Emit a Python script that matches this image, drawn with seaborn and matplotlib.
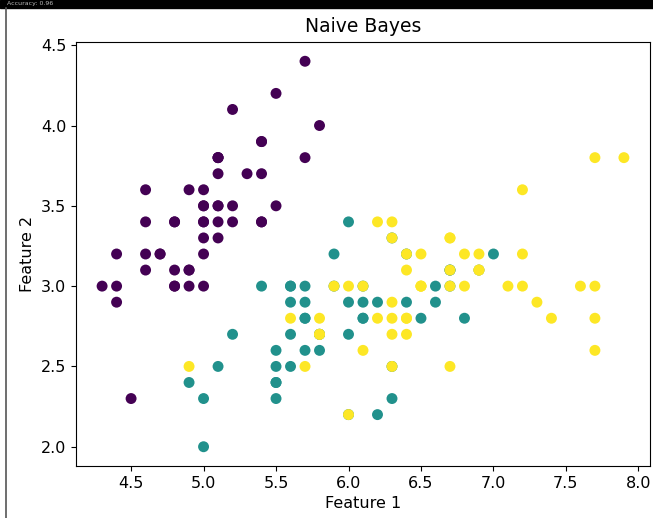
import numpy as np
import pandas as pd

import matplotlib
matplotlib.use("Agg")

import matplotlib.pyplot as plt
import seaborn as sns
from matplotlib.lines import Line2D
from matplotlib.patches import Rectangle


# ------------------------ DATA --------------------------
# iris sepal length / sepal width, class label (0, 1, 2)

feature_1 = [
    5.1, 4.9, 4.7, 4.6, 5.0, 5.4, 4.6, 5.0, 4.4, 4.9,
    5.4, 4.8, 4.8, 4.3, 5.8, 5.7, 5.4, 5.1, 5.7, 5.1,
    5.4, 5.1, 4.6, 5.1, 4.8, 5.0, 5.0, 5.2, 5.2, 4.7,
    4.8, 5.4, 5.2, 5.5, 4.9, 5.0, 5.5, 4.9, 4.4, 5.1,
    5.0, 4.5, 4.4, 5.0, 5.1, 4.8, 5.1, 4.6, 5.3, 5.0,
    7.0, 6.4, 6.9, 5.5, 6.5, 5.7, 6.3, 4.9, 6.6, 5.2,
    5.0, 5.9, 6.0, 6.1, 5.6, 6.7, 5.6, 5.8, 6.2, 5.6,
    5.9, 6.1, 6.3, 6.1, 6.4, 6.6, 6.8, 6.7, 6.0, 5.7,
    5.5, 5.5, 5.8, 6.0, 5.4, 6.0, 6.7, 6.3, 5.6, 5.5,
    5.5, 6.1, 5.8, 5.0, 5.6, 5.7, 5.7, 6.2, 5.1, 5.7,
    6.3, 5.8, 7.1, 6.3, 6.5, 7.6, 4.9, 7.3, 6.7, 7.2,
    6.5, 6.4, 6.8, 5.7, 5.8, 6.4, 6.5, 7.7, 7.7, 6.0,
    6.9, 5.6, 7.7, 6.3, 6.7, 7.2, 6.2, 6.1, 6.4, 7.2,
    7.4, 7.9, 6.4, 6.3, 6.1, 7.7, 6.3, 6.4, 6.0, 6.9,
    6.7, 6.9, 5.8, 6.8, 6.7, 6.7, 6.3, 6.5, 6.2, 5.9,
]

feature_2 = [
    3.5, 3.0, 3.2, 3.1, 3.6, 3.9, 3.4, 3.4, 2.9, 3.1,
    3.7, 3.4, 3.0, 3.0, 4.0, 4.4, 3.9, 3.5, 3.8, 3.8,
    3.4, 3.7, 3.6, 3.3, 3.4, 3.0, 3.4, 3.5, 3.4, 3.2,
    3.1, 3.4, 4.1, 4.2, 3.1, 3.2, 3.5, 3.6, 3.0, 3.4,
    3.5, 2.3, 3.2, 3.5, 3.8, 3.0, 3.8, 3.2, 3.7, 3.3,
    3.2, 3.2, 3.1, 2.3, 2.8, 2.8, 3.3, 2.4, 2.9, 2.7,
    2.0, 3.0, 2.2, 2.9, 2.9, 3.1, 3.0, 2.7, 2.2, 2.5,
    3.2, 2.8, 2.5, 2.8, 2.9, 3.0, 2.8, 3.0, 2.9, 2.6,
    2.4, 2.4, 2.7, 2.7, 3.0, 3.4, 3.1, 2.3, 3.0, 2.5,
    2.6, 3.0, 2.6, 2.3, 2.7, 3.0, 2.9, 2.9, 2.5, 2.8,
    3.3, 2.7, 3.0, 2.9, 3.0, 3.0, 2.5, 2.9, 2.5, 3.6,
    3.2, 2.7, 3.0, 2.5, 2.8, 3.2, 3.0, 3.8, 2.6, 2.2,
    3.2, 2.8, 2.8, 2.7, 3.3, 3.2, 2.8, 3.0, 2.8, 3.0,
    2.8, 3.8, 2.8, 2.8, 2.6, 3.0, 3.4, 3.1, 3.0, 3.1,
    3.1, 3.1, 2.7, 3.2, 3.3, 3.0, 2.5, 3.0, 3.4, 3.0,
]

labels = [0] * 50 + [1] * 50 + [2] * 50

CLASS_COLORS = ["#440154", "#21918c", "#fde725"]  # viridis at 0, 0.5, 1


def main():
    df = pd.DataFrame({"f1": feature_1, "f2": feature_2, "label": labels})

    plt.rcParams["font.family"] = ["DejaVu Sans"]
    plt.rcParams["font.size"] = 11.5

    fig = plt.figure(figsize=(6.53, 5.18), dpi=100)
    ax = fig.add_axes([76 / 653, 1 - 466 / 518, 574 / 653, 424 / 518])

    sns.scatterplot(
        data=df, x="f1", y="f2", hue="label",
        palette=CLASS_COLORS, s=62, linewidth=0,
        legend=False, ax=ax
    )

    ax.set_title("Naive Bayes", fontsize=13.5, pad=7)
    ax.set_xlabel("Feature 1", fontsize=11.5)
    ax.set_ylabel("Feature 2", fontsize=11.5)
    ax.tick_params(labelsize=11.5)

    # screenshot frame: dark strip on top, thin border on the left
    fig.patches.append(Rectangle((0, 1 - 8 / 518), 1, 8 / 518,
                                 transform=fig.transFigure,
                                 color="black", zorder=0))
    fig.text(0.01, 1 - 4 / 518, "Accuracy: 0.96", color="#bbbbbb",
             fontsize=4.5, va="center")
    fig.lines.append(Line2D([6 / 653, 6 / 653], [0, 1 - 8 / 518],
                            transform=fig.transFigure,
                            color="#555555", lw=1.2))

    fig.savefig("out.png", dpi=100)
    plt.close(fig)


if __name__ == "__main__":
    main()
